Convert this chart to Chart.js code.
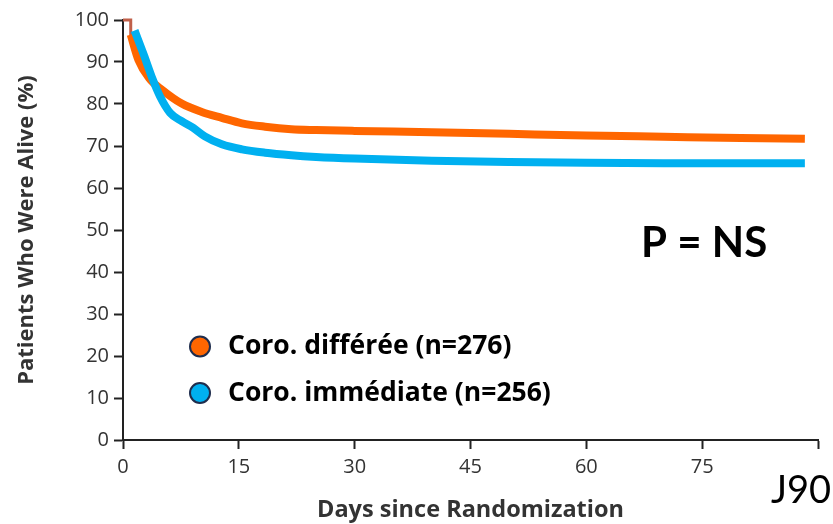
<!DOCTYPE html>
<html>
<head>
<meta charset="utf-8">
<script src="https://cdn.jsdelivr.net/npm/chart.js@4.4.1/dist/chart.umd.min.js"></script>
<style>
  html, body { margin: 0; padding: 0; background: #fff; }
  #wrap { width: 833px; height: 524px; }
</style>
</head>
<body>
<div id="wrap"><canvas id="graph" width="833" height="524"></canvas></div>
<script>
// survival curves, % alive by day
var differeeDays = [1, 2, 3.4, 5.1, 7.6, 10.2, 12.8, 15.4, 18.4, 21.8, 25, 30, 40, 50, 60, 70, 80, 88.3];
var differeeVals = [96.5, 90.5, 86.1, 83.3, 80.1, 78.1, 76.7, 75.4, 74.6, 74.0, 73.8, 73.6, 73.3, 72.9, 72.5, 72.2, 71.9, 71.7];

var immediateDays = [1.5, 2.7, 3.8, 4.8, 6.1, 7.6, 9.1, 10.6, 12.8, 15.4, 18.4, 21.8, 25, 30, 40, 50, 60, 70, 80, 88.3];
var immediateVals = [97.5, 91.7, 86.1, 81.8, 77.9, 75.9, 74.3, 72.3, 70.4, 69.2, 68.4, 67.8, 67.4, 67.0, 66.5, 66.2, 66.0, 65.9, 65.9, 65.9];

// first censor step at the top
var stepDays = [0, 1, 1];
var stepVals = [100, 100, 95];

var seriesLabels = ["Coro. différée (n=276)", "Coro. immédiate (n=256)"];
var xTicks = [0, 15, 30, 45, 60, 75, 90];

function pts(xs, ys) {
  return xs.map(function (x, i) { return { x: x, y: ys[i] }; });
}

var orange = "#FF6600";
var blue = "#00B0F0";

var textPlugin = {
  id: 'texts',
  afterDraw: function (chart) {
    var c = chart.ctx;
    c.save();
    // legend
    var items = [[orange, 346.5], [blue, 393]];
    items.forEach(function (it, i) {
      c.beginPath();
      c.arc(200, it[1], 10, 0, Math.PI * 2);
      c.fillStyle = it[0];
      c.fill();
      c.lineWidth = 2;
      c.strokeStyle = "#1F2D4D";
      c.stroke();
      c.fillStyle = "#000";
      c.font = "bold 26.5px 'Open Sans'";
      c.textBaseline = "middle";
      c.textAlign = "left";
      c.fillText(seriesLabels[i], 228, it[1]);
    });
    c.font = "bold 42px Lato";
    c.fillText("P = NS", 641, 243);
    c.font = "38px Lato";
    c.fillText("J90", 771, 491);
    c.restore();
  }
};

var ctx = document.getElementById("graph").getContext('2d');

var chart = new Chart(ctx, {
  type: 'line',
  data: {
    datasets: [
      {
        label: seriesLabels[0],
        data: pts(differeeDays, differeeVals),
        borderColor: orange,
        borderWidth: 8,
        pointRadius: 0,
        cubicInterpolationMode: 'monotone',
        clip: false,
        order: 2
      },
      {
        label: seriesLabels[1],
        data: pts(immediateDays, immediateVals),
        borderColor: blue,
        borderWidth: 8,
        pointRadius: 0,
        cubicInterpolationMode: 'monotone',
        clip: false,
        order: 1
      },
      {
        label: 'step',
        data: pts(stepDays, stepVals),
        borderColor: "#C0604A",
        borderWidth: 3,
        pointRadius: 0,
        clip: false,
        order: 3
      }
    ]
  },
  options: {
    responsive: false,
    animation: false,
    layout: { padding: { top: 20, right: 15, left: 0, bottom: 0 } },
    plugins: { legend: { display: false }, tooltip: { enabled: false } },
    scales: {
      x: {
        type: 'linear',
        min: 0,
        max: 90,
        afterBuildTicks: function (s) { s.ticks = xTicks.map(function (v) { return { value: v }; }); },
        afterFit: function (s) { s.height = 84; },
        grid: { drawOnChartArea: false, tickLength: 9, tickWidth: 2, tickColor: "#222" },
        border: { color: "#222", width: 2 },
        ticks: {
          padding: 6,
          color: "#333",
          font: { family: "Open Sans", size: 20 },
          maxRotation: 0,
          callback: function (v) { return v === 90 ? '' : v; }
        },
        title: {
          display: true,
          text: "Days since Randomization",
          color: "#333",
          font: { family: "Open Sans", size: 23.5, weight: 'bold' },
          padding: { top: 0, bottom: 0 }
        }
      },
      y: {
        min: 0,
        max: 100,
        afterFit: function (s) { s.width = 123; },
        grid: { drawOnChartArea: false, tickLength: 9, tickWidth: 2, tickColor: "#222" },
        border: { color: "#222", width: 2 },
        ticks: {
          stepSize: 10,
          padding: 5,
          color: "#333",
          font: { family: "Open Sans", size: 20 }
        },
        title: {
          display: true,
          text: "Patients Who Were Alive (%)",
          color: "#333",
          font: { family: "Open Sans", size: 22, weight: 'bold' },
          padding: { top: 14, bottom: 0 }
        }
      }
    }
  },
  plugins: [textPlugin]
});
</script>
</body>
</html>
